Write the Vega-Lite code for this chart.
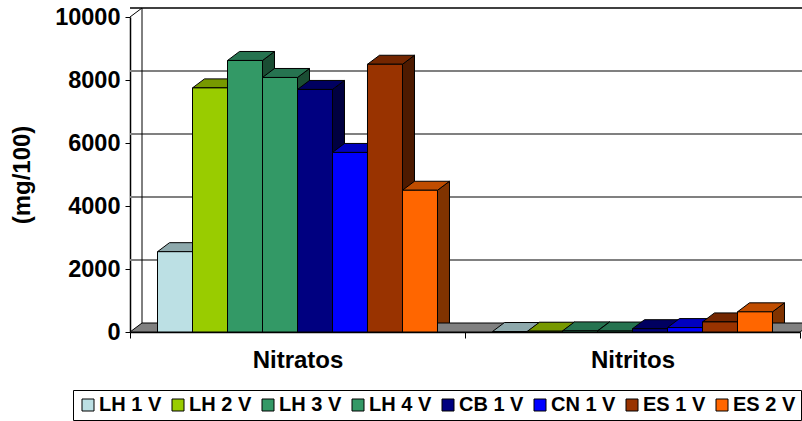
{
  "$schema": "https://vega.github.io/schema/vega-lite/v6.json",
  "width": 670,
  "height": 315,
  "autosize": {"type": "none"},
  "padding": {"left": 130, "top": 17, "right": 2, "bottom": 89},
  "background": "white",
  "config": {
    "view": {"stroke": null},
    "font": "Liberation Sans",
    "axisX": {
      "labelAngle": 0,
      "labelFontSize": 24,
      "labelFontWeight": "bold",
      "labelColor": "black",
      "labelPadding": 10,
      "tickBand": "extent",
      "tickSize": 6,
      "tickColor": "black",
      "domainColor": "black",
      "domainWidth": 1.5,
      "grid": false
    },
    "axisY": {
      "titleFontSize": 24,
      "titleFontWeight": "bold",
      "titleColor": "black",
      "titlePadding": 20,
      "grid": false,
      "labelFontSize": 23.5,
      "labelFontWeight": "bold",
      "labelColor": "black",
      "labelPadding": 5,
      "tickSize": 5,
      "tickColor": "black",
      "domainColor": "black",
      "domainWidth": 1.5
    }
  },
  "data": {
    "values": [
      {"categoria": "Nitratos", "serie": "LH 1 V", "valor": 2550},
      {"categoria": "Nitratos", "serie": "LH 2 V", "valor": 7750},
      {"categoria": "Nitratos", "serie": "LH 3 V", "valor": 8620},
      {"categoria": "Nitratos", "serie": "LH 4 V", "valor": 8080},
      {"categoria": "Nitratos", "serie": "CB 1 V", "valor": 7700},
      {"categoria": "Nitratos", "serie": "CN 1 V", "valor": 5700},
      {"categoria": "Nitratos", "serie": "ES 1 V", "valor": 8500},
      {"categoria": "Nitratos", "serie": "ES 2 V", "valor": 4500},
      {"categoria": "Nitritos", "serie": "LH 1 V", "valor": 15},
      {"categoria": "Nitritos", "serie": "LH 2 V", "valor": 25},
      {"categoria": "Nitritos", "serie": "LH 3 V", "valor": 35},
      {"categoria": "Nitritos", "serie": "LH 4 V", "valor": 30},
      {"categoria": "Nitritos", "serie": "CB 1 V", "valor": 105},
      {"categoria": "Nitritos", "serie": "CN 1 V", "valor": 140},
      {"categoria": "Nitritos", "serie": "ES 1 V", "valor": 320},
      {"categoria": "Nitritos", "serie": "ES 2 V", "valor": 640}
    ]
  },
  "resolve": {"scale": {"fill": "independent"}},
  "layer": [
    {
      "description": "back wall gridlines",
      "data": {"values": [{"v": 2000}, {"v": 4000}, {"v": 6000}, {"v": 8000}]},
      "mark": {"type": "rule", "xOffset": 12, "yOffset": -9, "color": "#808080", "strokeWidth": 2},
      "encoding": {
        "y": {"field": "v", "type": "quantitative", "title": "(mg/100)"}
      }
    },
    {
      "description": "back wall top edge",
      "data": {"values": [{"v": 10000}]},
      "mark": {"type": "rule", "xOffset": 12, "yOffset": -9, "color": "black", "strokeWidth": 1.5},
      "encoding": {
        "y": {"field": "v", "type": "quantitative", "title": "(mg/100)"}
      }
    },
    {
      "description": "back wall left edge",
      "data": {"values": [{}]},
      "mark": {"type": "rule", "xOffset": 12, "yOffset": -9, "y2Offset": -9, "color": "black", "strokeWidth": 1},
      "encoding": {
        "x": {"datum": "Nitratos", "type": "nominal", "bandPosition": 0, "title": null},
        "y": {"datum": 0, "type": "quantitative", "title": "(mg/100)"},
        "y2": {"datum": 10000}
      }
    },
    {
      "description": "side wall top edge joining the value axis to the back wall",
      "data": {"values": [{}]},
      "mark": {
        "type": "point",
        "shape": "M -167.5 0 L -155.5 -9",
        "size": 4,
        "filled": false,
        "stroke": "black",
        "strokeWidth": 1,
        "opacity": 1
      },
      "encoding": {
        "x": {"datum": "Nitratos", "type": "nominal", "title": null},
        "y": {"datum": 10000, "type": "quantitative", "title": "(mg/100)"}
      }
    },
    {
      "description": "side faces, clipped at the plot floor",
      "mark": {
        "type": "point",
        "shape": "M 17.5 0 L 29.5 -9 L 29.5 400 L 17.5 400 Z",
        "size": 4,
        "filled": true,
        "stroke": "black",
        "strokeWidth": 1,
        "opacity": 1,
        "clip": true
      },
      "encoding": {
        "x": {"field": "categoria", "type": "nominal", "title": null},
        "xOffset": {"field": "serie", "type": "nominal"},
        "y": {"field": "valor", "type": "quantitative", "title": "(mg/100)"},
        "fill": {
          "field": "serie",
          "type": "nominal",
          "legend": null,
          "scale": {
            "domain": ["LH 1 V", "LH 2 V", "LH 3 V", "LH 4 V", "CB 1 V", "CN 1 V", "ES 1 V", "ES 2 V"],
            "range": ["#5E7072", "#4D6600", "#1A4D33", "#1A4D33", "#000040", "#000080", "#4D1A00", "#803300"]
          }
        }
      }
    },
    {
      "description": "grey floor of the 3D plot",
      "data": {"values": [{}]},
      "mark": {
        "type": "point",
        "shape": "M -167.5 0 L 502.5 0 L 514.5 -9 L -155.5 -9 Z",
        "size": 4,
        "filled": true,
        "fill": "#808080",
        "stroke": "black",
        "strokeWidth": 1,
        "opacity": 1
      },
      "encoding": {
        "x": {"datum": "Nitratos", "type": "nominal", "title": null},
        "y": {"datum": 0, "type": "quantitative", "title": "(mg/100)"}
      }
    },
    {
      "description": "top faces",
      "mark": {
        "type": "point",
        "shape": "M -17.5 0 L 17.5 0 L 29.5 -9 L -5.5 -9 Z",
        "size": 4,
        "filled": true,
        "stroke": "black",
        "strokeWidth": 1,
        "opacity": 1
      },
      "encoding": {
        "x": {"field": "categoria", "type": "nominal", "title": null},
        "xOffset": {"field": "serie", "type": "nominal"},
        "y": {"field": "valor", "type": "quantitative", "title": "(mg/100)"},
        "fill": {
          "field": "serie",
          "type": "nominal",
          "legend": null,
          "scale": {
            "domain": ["LH 1 V", "LH 2 V", "LH 3 V", "LH 4 V", "CB 1 V", "CN 1 V", "ES 1 V", "ES 2 V"],
            "range": ["#8EA9AC", "#779900", "#267350", "#267350", "#000060", "#0000C0", "#732600", "#C04D00"]
          }
        }
      }
    },
    {
      "description": "front faces",
      "mark": {"type": "bar", "stroke": "black", "strokeWidth": 1},
      "encoding": {
        "x": {
          "field": "categoria",
          "type": "nominal",
          "title": null,
          "sort": ["Nitratos", "Nitritos"],
          "scale": {"domain": ["Nitratos", "Nitritos"], "paddingInner": 0, "paddingOuter": 0}
        },
        "xOffset": {
          "field": "serie",
          "type": "nominal",
          "scale": {
            "domain": ["LH 1 V", "LH 2 V", "LH 3 V", "LH 4 V", "CB 1 V", "CN 1 V", "ES 1 V", "ES 2 V"],
            "paddingInner": 0,
            "paddingOuter": 0.786
          }
        },
        "y": {
          "field": "valor",
          "type": "quantitative",
          "title": "(mg/100)",
          "scale": {"domain": [0, 10000], "nice": false},
          "axis": {"values": [0, 2000, 4000, 6000, 8000, 10000], "format": "d"}
        },
        "y2": {"datum": 0},
        "fill": {
          "field": "serie",
          "type": "nominal",
          "scale": {
            "domain": ["LH 1 V", "LH 2 V", "LH 3 V", "LH 4 V", "CB 1 V", "CN 1 V", "ES 1 V", "ES 2 V"],
            "range": ["#BCE0E4", "#99CC00", "#339966", "#339966", "#000080", "#0000FF", "#993300", "#FF6600"]
          },
          "legend": {
            "title": null,
            "orient": "none",
            "legendX": -57,
            "legendY": 373,
            "direction": "horizontal",
            "columns": 8,
            "columnPadding": 6,
            "symbolType": "square",
            "symbolSize": 144,
            "symbolStrokeColor": "black",
            "symbolStrokeWidth": 1,
            "symbolOpacity": 1,
            "labelFontSize": 20,
            "labelFontWeight": "bold",
            "labelColor": "black",
            "labelOffset": 1,
            "labelFont": "Liberation Sans",
            "padding": 5,
            "strokeColor": "black",
            "fillColor": "white",
            "cornerRadius": 0
          }
        }
      }
    }
  ]
}
